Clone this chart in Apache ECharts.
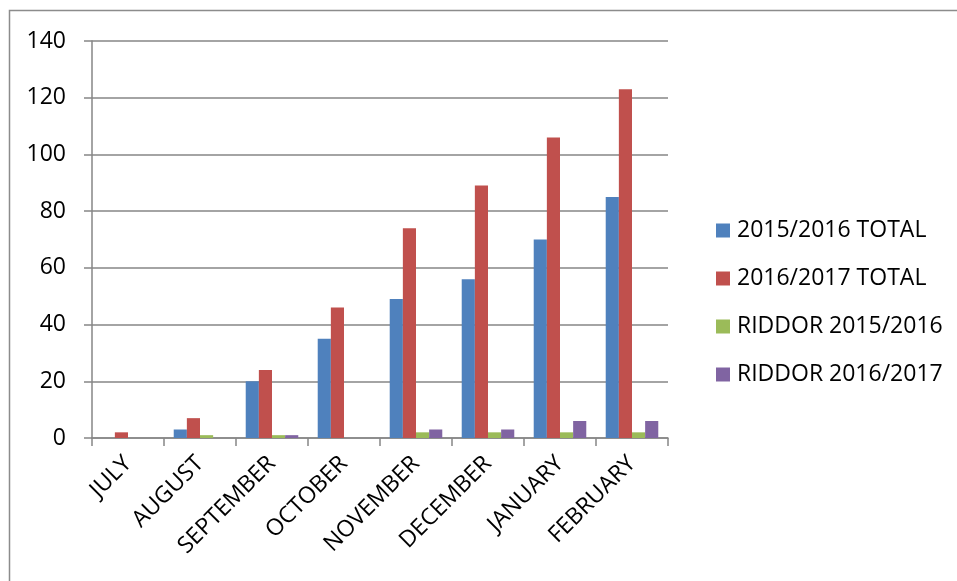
<!DOCTYPE html>
<html>
<head>
<meta charset="utf-8">
<script src="https://cdn.jsdelivr.net/npm/echarts@6/dist/echarts.min.js"></script>
<style>
  html, body { margin: 0; padding: 0; background: #fff; }
  #chart { width: 957px; height: 581px; }
</style>
</head>
<body>
<div id="chart"></div>
<script>
const months = ["JULY", "AUGUST", "SEPTEMBER", "OCTOBER", "NOVEMBER", "DECEMBER", "JANUARY", "FEBRUARY"]
const total1516 = [0, 3, 20, 35, 49, 56, 70, 85]
const total1617 = [2, 7, 24, 46, 74, 89, 106, 123]
const riddor1516 = [0, 1, 1, 0, 2, 2, 2, 2]
const riddor1617 = [0, 0, 1, 0, 3, 3, 6, 6]
const yTicks = [0, 20, 40, 60, 80, 100, 120, 140]

const font = "Open Sans"
const axisGrey = "#868686"

const chart = echarts.init(document.getElementById("chart"))

const bar = (name, data, color) => ({
  name,
  type: "bar",
  data,
  barGap: "0%",
  barCategoryGap: "27%",
  itemStyle: { color },
  animation: false
})

chart.setOption({
  animation: false,
  textStyle: { fontFamily: font },
  graphic: [
    {
      type: "rect",
      shape: { x: 9.5, y: 10.5, width: 1000, height: 700 },
      style: { fill: "none", stroke: "#8c8c8c", lineWidth: 1.5 },
      silent: true
    }
  ],
  grid: { left: 92, right: 289, top: 41, bottom: 143 },
  legend: {
    orient: "vertical",
    left: 711,
    top: 214,
    itemWidth: 14,
    itemHeight: 14,
    itemGap: 25,
    icon: "rect",
    textStyle: { fontFamily: font, fontSize: 23, color: "#000", lineHeight: 23, padding: [0, 0, 0, 2] },
    data: ["2015/2016 TOTAL", "2016/2017 TOTAL", "RIDDOR 2015/2016", "RIDDOR 2016/2017"]
  },
  xAxis: {
    type: "category",
    data: months,
    axisLine: { lineStyle: { color: axisGrey, width: 1.5 } },
    axisTick: { show: true, length: 8, lineStyle: { color: axisGrey, width: 1.5 } },
    axisLabel: {
      rotate: 45,
      margin: 22,
      fontFamily: font,
      fontSize: 23,
      color: "#000",
      interval: 0
    }
  },
  yAxis: {
    type: "value",
    min: yTicks[0],
    max: yTicks[yTicks.length - 1],
    interval: yTicks[1] - yTicks[0],
    axisLine: { show: true, lineStyle: { color: axisGrey, width: 1.5 } },
    axisTick: { show: true, length: 8, lineStyle: { color: axisGrey, width: 1.5 } },
    splitLine: { lineStyle: { color: axisGrey, width: 1.5 } },
    axisLabel: { margin: 26, fontFamily: font, fontSize: 23, color: "#000" }
  },
  series: [
    bar("2015/2016 TOTAL", total1516, "#4F81BD"),
    bar("2016/2017 TOTAL", total1617, "#C0504D"),
    bar("RIDDOR 2015/2016", riddor1516, "#9BBB59"),
    bar("RIDDOR 2016/2017", riddor1617, "#8064A2")
  ]
})
</script>
</body>
</html>
